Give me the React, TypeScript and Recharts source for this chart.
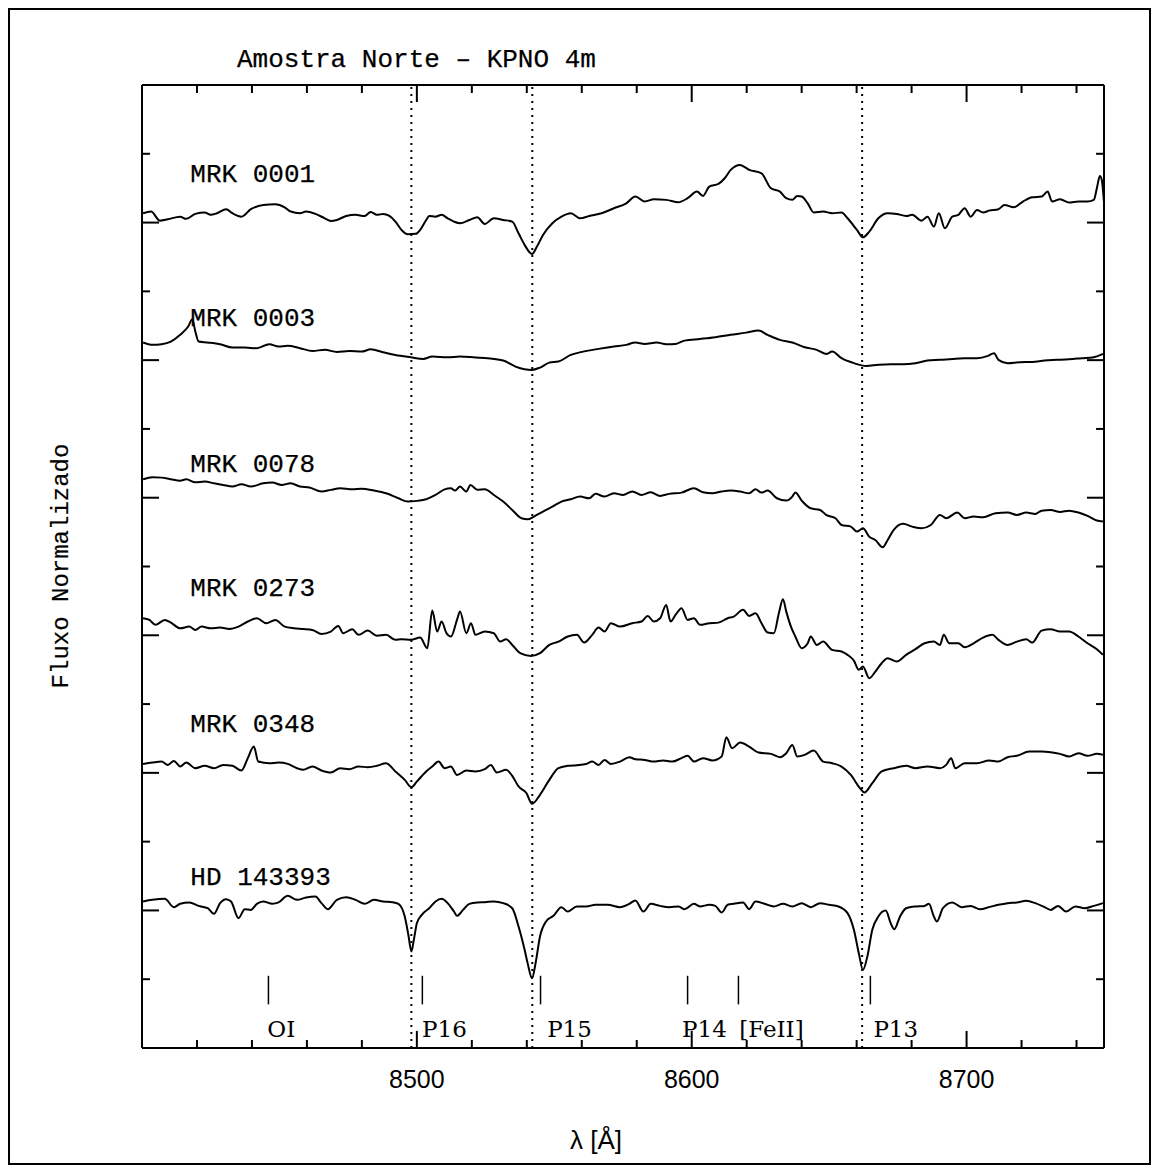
import { ComposedChart, Line, XAxis, YAxis, ReferenceLine, Scatter } from 'recharts';

// spectra: [wavelength (Å), normalized flux], shifted by an offset when plotted
const mrk0001 = [
  [8400.4, 1.068], [8403.3, 1.080], [8406.5, 1.014], [8409.4, 1.024], [8413.9, 1.043], [8416.1, 1.027],
  [8419.4, 1.063], [8422.8, 1.073], [8425.0, 1.056], [8427.3, 1.068], [8430.6, 1.097], [8432.9, 1.068],
  [8436.2, 1.043], [8439.6, 1.097], [8444.1, 1.128], [8448.5, 1.133], [8451.9, 1.111], [8454.1, 1.080],
  [8457.5, 1.068], [8459.7, 1.080], [8463.1, 1.063], [8466.5, 1.031], [8468.7, 1.012], [8470.9, 1.019],
  [8474.3, 1.048], [8477.7, 1.056], [8481.0, 1.048], [8483.2, 1.077], [8485.5, 1.056], [8487.7, 1.063],
  [8490.0, 1.048], [8492.2, 1.007], [8494.4, 0.947], [8496.7, 0.915], [8499.6, 0.918], [8501.2, 0.947],
  [8503.4, 1.019], [8504.5, 1.048], [8506.8, 1.043], [8509.0, 1.056], [8511.2, 1.031], [8513.5, 1.007],
  [8515.7, 0.995], [8519.1, 1.019], [8522.0, 1.039], [8524.7, 0.990], [8528.0, 1.031], [8531.4, 1.019],
  [8534.7, 1.007], [8537.0, 0.922], [8539.2, 0.838], [8541.9, 0.772], [8543.7, 0.826], [8545.9, 0.910],
  [8549.3, 0.995], [8552.6, 1.043], [8556.0, 1.068], [8559.4, 1.031], [8562.7, 1.048], [8567.2, 1.068],
  [8571.7, 1.104], [8576.2, 1.140], [8579.5, 1.189], [8582.9, 1.153], [8586.2, 1.169], [8590.7, 1.165],
  [8595.2, 1.148], [8598.5, 1.177], [8601.9, 1.225], [8604.1, 1.194], [8606.4, 1.262], [8609.7, 1.281],
  [8612.0, 1.322], [8614.2, 1.383], [8617.6, 1.419], [8620.9, 1.383], [8625.4, 1.358], [8628.8, 1.249],
  [8632.1, 1.225], [8634.4, 1.177], [8636.6, 1.165], [8638.4, 1.194], [8640.0, 1.189], [8642.2, 1.140],
  [8644.4, 1.073], [8647.8, 1.080], [8651.1, 1.068], [8654.5, 1.073], [8656.7, 1.031], [8660.1, 0.947],
  [8662.3, 0.893], [8664.6, 0.934], [8667.9, 1.031], [8671.3, 1.068], [8674.6, 1.063], [8678.0, 1.048],
  [8680.2, 1.056], [8683.6, 1.014], [8685.8, 1.043], [8688.1, 0.971], [8689.9, 1.068], [8692.1, 0.959],
  [8694.8, 1.043], [8697.0, 1.056], [8699.3, 1.104], [8701.5, 1.043], [8703.8, 1.092], [8706.0, 1.073],
  [8708.2, 1.087], [8711.6, 1.097], [8713.8, 1.128], [8717.2, 1.111], [8720.5, 1.153], [8723.9, 1.184],
  [8727.3, 1.189], [8729.5, 1.225], [8731.1, 1.153], [8734.0, 1.169], [8737.3, 1.145], [8740.7, 1.153],
  [8744.0, 1.153], [8746.3, 1.165], [8747.4, 1.249], [8748.5, 1.339], [8749.2, 1.310], [8750.0, 1.145],
];

const mrk0003 = [
  [8400.4, 1.128], [8403.8, 1.111], [8407.1, 1.116], [8410.5, 1.135], [8413.9, 1.184], [8416.8, 1.244],
  [8418.3, 1.297], [8419.4, 1.208], [8420.6, 1.135], [8423.9, 1.128], [8428.4, 1.116], [8432.9, 1.091],
  [8437.4, 1.091], [8441.8, 1.087], [8446.3, 1.116], [8449.7, 1.099], [8453.0, 1.104], [8457.5, 1.087],
  [8462.0, 1.067], [8466.5, 1.075], [8470.9, 1.060], [8475.4, 1.067], [8479.9, 1.062], [8483.2, 1.079],
  [8487.7, 1.058], [8492.2, 1.038], [8497.8, 1.021], [8502.3, 1.009], [8505.6, 1.026], [8511.2, 1.021],
  [8515.7, 1.026], [8521.3, 1.019], [8525.8, 1.014], [8531.4, 0.997], [8535.9, 0.953], [8539.2, 0.934],
  [8541.9, 0.929], [8544.8, 0.946], [8548.2, 0.982], [8551.5, 0.990], [8556.0, 1.038], [8560.5, 1.062],
  [8566.1, 1.082], [8571.7, 1.099], [8576.2, 1.111], [8579.5, 1.128], [8582.9, 1.118], [8587.3, 1.128],
  [8590.7, 1.116], [8594.1, 1.118], [8597.4, 1.142], [8603.0, 1.154], [8608.6, 1.167], [8614.2, 1.184],
  [8619.8, 1.200], [8624.3, 1.215], [8627.6, 1.184], [8632.1, 1.147], [8636.6, 1.128], [8641.1, 1.094],
  [8645.5, 1.075], [8648.9, 1.045], [8651.1, 1.062], [8654.5, 1.014], [8659.0, 0.978], [8663.5, 0.958],
  [8667.9, 0.966], [8672.4, 0.970], [8676.9, 0.970], [8681.4, 0.978], [8685.8, 0.997], [8690.3, 1.002],
  [8694.8, 1.009], [8699.3, 1.014], [8703.8, 1.014], [8707.8, 1.031], [8710.0, 1.050], [8711.6, 1.002],
  [8714.9, 0.978], [8719.4, 0.985], [8723.9, 0.987], [8728.4, 0.997], [8732.9, 1.002], [8737.3, 1.007],
  [8741.8, 1.014], [8746.3, 1.021], [8749.6, 1.045],
];

const mrk0078 = [
  [8400.4, 1.134], [8403.8, 1.149], [8407.1, 1.146], [8410.5, 1.134], [8413.9, 1.124], [8416.1, 1.134],
  [8419.4, 1.112], [8422.8, 1.117], [8426.2, 1.105], [8429.5, 1.093], [8432.9, 1.081], [8436.2, 1.098],
  [8439.6, 1.081], [8444.1, 1.105], [8447.4, 1.110], [8450.8, 1.093], [8454.1, 1.105], [8457.5, 1.081],
  [8460.9, 1.074], [8465.3, 1.045], [8468.7, 1.057], [8472.1, 1.069], [8476.5, 1.061], [8479.9, 1.066],
  [8484.4, 1.052], [8488.8, 1.032], [8493.3, 0.996], [8496.7, 0.972], [8500.0, 0.977], [8503.4, 0.989],
  [8506.8, 1.020], [8510.1, 1.061], [8512.4, 1.069], [8513.9, 1.052], [8515.7, 1.081], [8518.0, 1.045],
  [8519.5, 1.093], [8522.0, 1.057], [8524.7, 1.061], [8528.0, 1.020], [8531.4, 0.972], [8534.7, 0.911],
  [8538.1, 0.851], [8540.3, 0.843], [8542.6, 0.863], [8545.9, 0.899], [8549.3, 0.935], [8552.6, 0.972],
  [8556.0, 0.989], [8559.4, 1.008], [8562.7, 0.996], [8565.0, 1.028], [8568.3, 1.008], [8571.7, 1.032],
  [8575.0, 1.020], [8578.4, 1.045], [8581.7, 1.020], [8585.1, 1.040], [8588.5, 1.013], [8591.8, 1.028],
  [8596.3, 1.037], [8600.8, 1.069], [8604.1, 1.040], [8607.5, 1.032], [8610.9, 1.045], [8614.2, 1.052],
  [8617.6, 1.045], [8620.9, 1.032], [8623.2, 1.061], [8625.4, 1.037], [8627.6, 1.052], [8631.0, 0.996],
  [8634.4, 0.979], [8636.6, 1.008], [8637.7, 1.037], [8640.0, 0.979], [8643.3, 0.923], [8646.7, 0.911],
  [8648.9, 0.875], [8652.3, 0.851], [8654.5, 0.802], [8657.9, 0.790], [8660.1, 0.754], [8662.3, 0.778],
  [8664.6, 0.717], [8666.8, 0.693], [8669.5, 0.640], [8671.3, 0.693], [8673.5, 0.766], [8676.9, 0.810],
  [8680.2, 0.790], [8683.6, 0.778], [8687.0, 0.802], [8690.3, 0.875], [8692.6, 0.851], [8696.6, 0.892],
  [8699.3, 0.851], [8702.6, 0.863], [8706.0, 0.858], [8710.5, 0.887], [8715.0, 0.892], [8718.3, 0.875],
  [8721.7, 0.892], [8725.0, 0.882], [8727.3, 0.906], [8730.6, 0.911], [8734.0, 0.897], [8737.3, 0.906],
  [8740.7, 0.892], [8744.0, 0.868], [8747.4, 0.834], [8749.6, 0.827],
];

const mrk0273 = [
  [8400.4, 1.124], [8402.7, 1.112], [8404.9, 1.076], [8408.3, 1.112], [8410.5, 1.092], [8413.9, 1.051],
  [8417.2, 1.063], [8419.4, 1.039], [8421.7, 1.063], [8425.0, 1.051], [8428.4, 1.056], [8431.8, 1.046],
  [8435.1, 1.063], [8438.5, 1.100], [8441.8, 1.124], [8445.2, 1.088], [8448.5, 1.112], [8451.9, 1.063],
  [8455.3, 1.051], [8458.6, 1.046], [8462.0, 1.039], [8465.3, 1.010], [8468.7, 1.027], [8471.4, 1.068],
  [8473.2, 1.015], [8476.5, 1.044], [8478.8, 1.003], [8482.1, 1.034], [8485.5, 0.996], [8488.8, 1.003],
  [8492.2, 0.967], [8494.4, 0.971], [8497.8, 0.967], [8501.2, 0.983], [8503.8, 0.906], [8505.6, 1.180],
  [8507.4, 1.027], [8509.0, 1.100], [8510.8, 1.015], [8512.4, 0.991], [8514.6, 1.112], [8515.7, 1.172],
  [8518.0, 1.015], [8519.7, 1.088], [8521.3, 1.003], [8524.7, 1.027], [8528.0, 1.015], [8530.3, 0.954],
  [8532.5, 0.971], [8534.7, 0.930], [8537.6, 0.870], [8541.5, 0.850], [8544.8, 0.870], [8548.2, 0.930],
  [8551.5, 0.954], [8554.9, 0.991], [8558.2, 1.003], [8560.9, 0.947], [8563.8, 1.003], [8566.1, 1.056],
  [8568.3, 1.027], [8570.6, 1.088], [8573.9, 1.063], [8578.4, 1.088], [8581.7, 1.100], [8584.0, 1.141],
  [8586.2, 1.100], [8588.5, 1.124], [8590.7, 1.221], [8592.3, 1.100], [8594.1, 1.148], [8596.3, 1.197],
  [8598.5, 1.112], [8600.8, 1.124], [8603.0, 1.076], [8606.4, 1.088], [8609.7, 1.092], [8613.1, 1.124],
  [8615.3, 1.136], [8618.7, 1.185], [8620.9, 1.141], [8623.2, 1.160], [8625.4, 1.088], [8627.6, 1.020],
  [8629.9, 1.015], [8631.7, 1.160], [8633.2, 1.262], [8634.4, 1.172], [8636.1, 1.063], [8637.7, 0.991],
  [8640.0, 0.906], [8642.2, 0.942], [8643.3, 0.991], [8645.5, 0.930], [8647.8, 0.954], [8651.1, 0.894],
  [8654.5, 0.882], [8656.7, 0.858], [8659.0, 0.816], [8660.8, 0.749], [8662.3, 0.773], [8664.6, 0.688],
  [8666.8, 0.736], [8669.1, 0.797], [8671.3, 0.833], [8674.6, 0.809], [8678.0, 0.858], [8681.4, 0.899],
  [8684.7, 0.942], [8688.1, 0.954], [8690.3, 0.930], [8691.7, 1.003], [8693.7, 0.942], [8697.0, 0.942],
  [8699.3, 0.913], [8702.6, 0.942], [8706.0, 0.983], [8709.4, 1.003], [8711.6, 0.967], [8714.9, 0.930],
  [8718.3, 0.954], [8721.7, 0.971], [8723.9, 0.947], [8727.3, 1.034], [8730.6, 1.044], [8734.0, 1.027],
  [8737.3, 1.027], [8740.7, 0.991], [8744.0, 0.942], [8747.4, 0.899], [8749.6, 0.858],
];

const mrk0348 = [
  [8400.4, 1.065], [8403.8, 1.075], [8407.1, 1.082], [8409.4, 1.058], [8411.6, 1.087], [8413.9, 1.046],
  [8416.1, 1.075], [8419.4, 1.034], [8422.8, 1.051], [8426.2, 1.034], [8429.5, 1.058], [8432.9, 1.051],
  [8436.2, 1.017], [8438.5, 1.107], [8440.7, 1.191], [8442.3, 1.082], [8446.3, 1.070], [8449.7, 1.075],
  [8453.0, 1.065], [8456.4, 1.034], [8458.6, 1.022], [8462.0, 1.046], [8465.3, 1.017], [8468.7, 1.002],
  [8472.1, 1.034], [8475.4, 1.027], [8478.8, 1.046], [8482.1, 1.041], [8485.5, 1.051], [8488.8, 1.070],
  [8492.2, 1.010], [8495.6, 0.949], [8498.0, 0.896], [8500.0, 0.937], [8503.4, 1.010], [8505.6, 1.046],
  [8507.9, 1.082], [8510.1, 1.034], [8512.4, 1.046], [8514.6, 0.985], [8518.0, 1.017], [8521.3, 1.010],
  [8524.7, 1.027], [8526.9, 1.058], [8529.1, 1.002], [8532.5, 1.022], [8534.7, 0.978], [8537.0, 0.901],
  [8539.9, 0.852], [8541.9, 0.775], [8544.8, 0.840], [8548.2, 0.949], [8551.5, 1.034], [8554.9, 1.051],
  [8558.2, 1.056], [8561.6, 1.065], [8563.8, 1.082], [8566.1, 1.058], [8568.3, 1.094], [8570.6, 1.065],
  [8573.9, 1.082], [8577.3, 1.114], [8579.5, 1.099], [8582.9, 1.094], [8586.2, 1.082], [8589.6, 1.090],
  [8592.9, 1.082], [8596.3, 1.107], [8598.5, 1.124], [8600.8, 1.082], [8604.1, 1.107], [8607.5, 1.090],
  [8610.9, 1.119], [8612.6, 1.259], [8614.7, 1.179], [8617.6, 1.220], [8620.9, 1.191], [8624.3, 1.148],
  [8628.8, 1.138], [8632.1, 1.114], [8634.4, 1.143], [8636.6, 1.203], [8638.4, 1.119], [8641.1, 1.131],
  [8644.4, 1.162], [8647.8, 1.082], [8651.1, 1.070], [8654.5, 1.046], [8657.9, 0.985], [8661.2, 0.889],
  [8662.8, 0.857], [8665.7, 0.925], [8669.1, 1.010], [8673.5, 1.034], [8678.0, 1.051], [8681.4, 1.034],
  [8685.8, 1.046], [8690.3, 1.034], [8692.6, 1.058], [8694.4, 1.107], [8695.9, 1.034], [8699.3, 1.070],
  [8703.8, 1.070], [8708.2, 1.090], [8711.6, 1.082], [8714.9, 1.114], [8718.3, 1.124], [8722.8, 1.155],
  [8727.3, 1.155], [8730.6, 1.150], [8734.0, 1.138], [8737.3, 1.119], [8740.7, 1.143], [8744.0, 1.124],
  [8747.4, 1.138], [8749.6, 1.131],
];

const hd143393 = [
  [8400.4, 1.065], [8403.8, 1.077], [8408.3, 1.084], [8411.6, 1.024], [8413.9, 1.048], [8417.2, 1.058],
  [8420.6, 1.033], [8423.9, 1.016], [8426.2, 0.975], [8428.4, 1.053], [8430.6, 1.082], [8432.4, 1.065],
  [8435.1, 0.944], [8437.4, 1.009], [8439.6, 1.004], [8441.8, 1.048], [8444.1, 1.065], [8447.4, 1.048],
  [8449.7, 1.058], [8453.0, 1.106], [8456.4, 1.077], [8459.7, 1.094], [8463.1, 1.101], [8465.3, 1.053],
  [8467.6, 1.009], [8470.9, 1.077], [8474.3, 1.096], [8477.7, 1.077], [8481.0, 1.048], [8484.4, 1.077],
  [8487.7, 1.065], [8491.1, 1.060], [8493.3, 1.048], [8495.6, 0.956], [8496.9, 0.823], [8498.0, 0.702],
  [8498.9, 0.786], [8500.0, 0.907], [8501.8, 0.968], [8504.5, 1.016], [8506.8, 1.065], [8509.0, 1.084],
  [8511.2, 1.053], [8513.5, 0.992], [8514.6, 0.961], [8516.8, 1.004], [8519.1, 1.048], [8522.0, 1.058],
  [8524.7, 1.060], [8528.0, 1.065], [8531.4, 1.053], [8534.7, 1.016], [8537.0, 0.883], [8539.2, 0.714],
  [8540.3, 0.617], [8541.9, 0.508], [8543.2, 0.617], [8544.8, 0.811], [8547.0, 0.920], [8549.7, 0.961],
  [8552.6, 1.024], [8554.9, 0.992], [8558.2, 1.029], [8561.6, 1.029], [8565.0, 1.041], [8569.4, 1.041],
  [8573.9, 1.024], [8577.3, 1.048], [8579.5, 1.072], [8582.4, 0.992], [8585.1, 1.048], [8588.5, 1.033],
  [8591.8, 1.024], [8595.2, 1.029], [8597.4, 1.009], [8600.8, 1.048], [8603.0, 1.029], [8606.4, 1.041],
  [8608.6, 1.033], [8610.9, 0.985], [8613.1, 1.041], [8615.3, 1.048], [8618.7, 1.058], [8620.9, 1.009],
  [8623.2, 1.065], [8626.5, 1.048], [8629.9, 1.029], [8633.2, 1.048], [8636.6, 1.029], [8640.0, 1.053],
  [8643.3, 1.024], [8646.7, 1.053], [8650.0, 1.041], [8653.4, 1.029], [8656.7, 0.980], [8659.0, 0.859],
  [8660.8, 0.689], [8662.3, 0.568], [8663.9, 0.665], [8665.7, 0.859], [8667.9, 0.956], [8670.6, 0.999],
  [8672.4, 0.907], [8673.7, 0.864], [8675.8, 0.956], [8678.0, 1.016], [8681.4, 1.029], [8684.7, 1.033],
  [8686.3, 1.048], [8688.1, 0.956], [8689.2, 0.920], [8691.4, 1.016], [8694.8, 1.058], [8698.2, 1.024],
  [8701.5, 1.033], [8704.9, 1.009], [8708.2, 1.024], [8711.6, 1.041], [8714.9, 1.053], [8718.3, 1.058],
  [8721.7, 1.070], [8725.0, 1.053], [8728.4, 1.024], [8730.6, 1.004], [8733.3, 1.033], [8736.2, 0.992],
  [8739.6, 1.029], [8742.9, 1.016], [8746.3, 1.033], [8749.6, 1.053],
];

const spectra = [mrk0001, mrk0003, mrk0078, mrk0273, mrk0348, hd143393];
const spectrumNames = ['MRK 0001', 'MRK 0003', 'MRK 0078', 'MRK 0273', 'MRK 0348', 'HD 143393'];
const spectrumOffsets = [5, 4, 3, 2, 1, 0];
const nameLevels = [6.293, 5.249, 4.19, 3.286, 2.3, 1.186];
const nameWave = 8417.6;

// Ca II triplet (dotted lines)
const caTriplet = [8498, 8542, 8662];

// line identifications
const lineIdNames = ['OI', 'P16', 'P15', 'P14', '[FeII]', 'P13'];
const lineIdWaves = [8446, 8502, 8545, 8598.5, 8617, 8665];
const lineIdTextWaves = [8445.6, 8501.9, 8547.4, 8596.5, 8617.3, 8666.1];
const lineIdMarkerRange = [0.317, 0.525];
const lineIdTextLevel = 0.081;

const waveMajorTicks = [8500, 8600, 8700];
const waveMinorTicks = [8420, 8440, 8460, 8480, 8520, 8540, 8560, 8580, 8620, 8640, 8660, 8680, 8720, 8740];
const fluxMajorTicks = [1, 2, 3, 4, 5, 6];
const fluxMinorTicks = [0.5, 1.5, 2.5, 3.5, 4.5, 5.5, 6.5];

const xDomain = [8400, 8750];
const yDomain = [0, 7];

// tick lengths in axis units (≈17 px major, ≈8 px minor)
const tickLenWave = { major: 6.2, minor: 2.9 };
const tickLenFlux = { major: 0.124, minor: 0.058 };

const MONO = '"Liberation Mono", "Courier New", monospace';
const SERIF = '"DejaVu Serif", serif';
const SANS = '"Liberation Sans", Arial, sans-serif';

const nameRows = spectrumNames.map((label, i) => ({ x: nameWave, y: nameLevels[i], label }));
const lineIdRows = lineIdNames.map((label, i) => ({ x: lineIdTextWaves[i], y: lineIdTextLevel, label }));

const NameText = (props: any) => (
  <text x={props.cx} y={props.cy} fontFamily={MONO} fontSize={26} fill="#000" stroke="#000" strokeWidth={0.25}>
    {props.payload.label}
  </text>
);

const LineIdText = (props: any) => (
  <text x={props.cx} y={props.cy} fontFamily={SERIF} fontSize={23} fill="#000">
    {props.payload.label}
  </text>
);

const ink = { stroke: '#000', strokeWidth: 2 };

// inward tick marks as short segments on the plot frame
const tickSegments = () => {
  const segs: { key: string; seg: { x: number; y: number }[] }[] = [];
  const addX = (w: number, len: number, k: string) => {
    segs.push({ key: `b${k}${w}`, seg: [{ x: w, y: yDomain[0] }, { x: w, y: yDomain[0] + len }] });
    segs.push({ key: `t${k}${w}`, seg: [{ x: w, y: yDomain[1] }, { x: w, y: yDomain[1] - len }] });
  };
  const addY = (f: number, len: number, k: string) => {
    segs.push({ key: `l${k}${f}`, seg: [{ x: xDomain[0], y: f }, { x: xDomain[0] + len, y: f }] });
    segs.push({ key: `r${k}${f}`, seg: [{ x: xDomain[1], y: f }, { x: xDomain[1] - len, y: f }] });
  };
  waveMajorTicks.forEach((w) => addX(w, tickLenFlux.major, 'M'));
  waveMinorTicks.forEach((w) => addX(w, tickLenFlux.minor, 'm'));
  fluxMajorTicks.forEach((f) => addY(f, tickLenWave.major, 'M'));
  fluxMinorTicks.forEach((f) => addY(f, tickLenWave.minor, 'm'));
  return segs;
};

export default function App() {
  return (
    <div style={{ position: 'relative', width: 1144, height: 1158 }}>
      <ComposedChart width={1144} height={1158} margin={{ top: 77, right: 48, bottom: 0, left: 134 }}>
        <XAxis
          xAxisId="x"
          dataKey="x"
          type="number"
          domain={xDomain}
          allowDataOverflow
          ticks={waveMajorTicks}
          interval={0}
          tickLine={false}
          axisLine={false}
          tickSize={0}
          tickMargin={22}
          height={118}
          tick={{ fontSize: 25, fill: '#000', fontFamily: SANS }}
        />
        <YAxis yAxisId="y" dataKey="y" type="number" domain={yDomain} allowDataOverflow hide />

        {/* plot frame */}
        <ReferenceLine xAxisId="x" yAxisId="y" x={xDomain[0]} {...ink} />
        <ReferenceLine xAxisId="x" yAxisId="y" x={xDomain[1]} {...ink} />
        <ReferenceLine xAxisId="x" yAxisId="y" y={yDomain[0]} {...ink} />
        <ReferenceLine xAxisId="x" yAxisId="y" y={yDomain[1]} {...ink} />

        {tickSegments().map((t) => (
          <ReferenceLine key={t.key} xAxisId="x" yAxisId="y" segment={t.seg} {...ink} />
        ))}

        {caTriplet.map((w) => (
          <ReferenceLine key={w} xAxisId="x" yAxisId="y" x={w} stroke="#000" strokeWidth={2} strokeDasharray="2 5" />
        ))}

        {lineIdWaves.map((w, i) => (
          <ReferenceLine
            key={lineIdNames[i]}
            xAxisId="x"
            yAxisId="y"
            segment={[{ x: w, y: lineIdMarkerRange[0] }, { x: w, y: lineIdMarkerRange[1] }]}
            stroke="#000"
            strokeWidth={1.5}
          />
        ))}

        {spectra.map((s, i) => (
          <Line
            key={spectrumNames[i]}
            xAxisId="x"
            yAxisId="y"
            data={s.map(([x, f]) => ({ x, y: f + spectrumOffsets[i] }))}
            dataKey="y"
            type="monotone"
            stroke="#000"
            strokeWidth={2}
            strokeLinejoin="round"
            dot={false}
            activeDot={false}
            isAnimationActive={false}
          />
        ))}

        <Scatter xAxisId="x" yAxisId="y" data={nameRows} dataKey="y" shape={NameText} isAnimationActive={false} />
        <Scatter xAxisId="x" yAxisId="y" data={lineIdRows} dataKey="y" shape={LineIdText} isAnimationActive={false} />
      </ComposedChart>

      <svg width={1144} height={1158} style={{ position: 'absolute', left: 0, top: 0, pointerEvents: 'none' }}>
        <rect x={1} y={1} width={1141} height={1155} fill="none" stroke="#000" strokeWidth={2} />
        <text x={229} y={58.5} fontFamily={MONO} fontSize={26} fill="#000" stroke="#000" strokeWidth={0.25}>
          Amostra Norte – KPNO 4m
        </text>
        <text transform="translate(60,558) rotate(-90)" textAnchor="middle" fontFamily={MONO} fontSize={24} fill="#000" stroke="#000" strokeWidth={0.2}>
          Fluxo Normalizado
        </text>
        <text x={588} y={1141} textAnchor="middle" fontFamily={SANS} fontSize={26} fill="#000">
          λ [Å]
        </text>
      </svg>
    </div>
  );
}
